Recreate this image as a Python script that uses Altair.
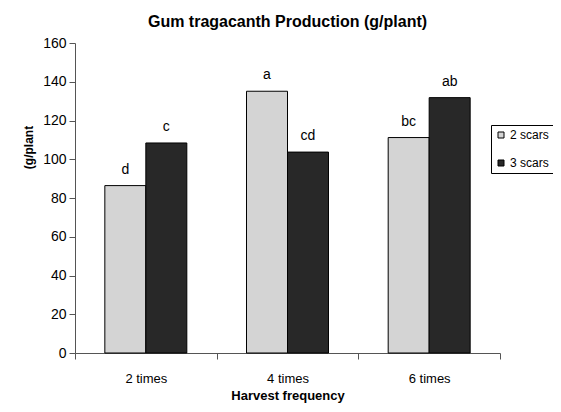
import altair as alt
import pandas as pd

freq = ["2 times", "4 times", "6 times"]
series_names = ["2 scars", "3 scars"]
scars2 = [86.4, 135.1, 111.2]
scars3 = [108.4, 103.7, 131.8]
letters2 = ["d", "a", "bc"]
letters3 = ["c", "cd", "ab"]

rows = []
for i, f in enumerate(freq):
    rows.append({"freq": f, "series": series_names[0], "value": scars2[i], "letter": letters2[i]})
    rows.append({"freq": f, "series": series_names[1], "value": scars3[i], "letter": letters3[i]})
df = pd.DataFrame(rows)

FONT = "Liberation Sans, Arial, sans-serif"

base = alt.Chart(df).encode(
    x=alt.X(
        "freq:N",
        sort=freq,
        scale=alt.Scale(paddingInner=0, paddingOuter=0),
        axis=alt.Axis(
            title="Harvest frequency",
            labelAngle=0,
            tickBand="extent",
            tickSize=6,
            labelPadding=13,
            labelFontSize=13,
            titleFontSize=13,
            titleFontWeight="bold",
            titleY=42,
            titleBaseline="middle",
        ),
    ),
    xOffset=alt.XOffset(
        "series:N",
        sort=series_names,
        scale=alt.Scale(paddingOuter=0.728, paddingInner=0),
    ),
    y=alt.Y(
        "value:Q",
        scale=alt.Scale(domain=[0, 160], nice=False),
        axis=alt.Axis(
            title="(g/plant",
            values=list(range(0, 161, 20)),
            tickSize=6,
            labelPadding=3,
            labelFontSize=14,
            grid=False,
            titleFontSize=12,
            titleFontWeight="bold",
            titleX=-47,
            titleY=104,
            titleAngle=-90,
            titleBaseline="middle",
            titleAlign="center",
        ),
    ),
)

bars = base.mark_bar(stroke="black", strokeWidth=1).encode(
    color=alt.Color(
        "series:N",
        sort=series_names,
        scale=alt.Scale(domain=series_names, range=["#d4d4d4", "#282828"]),
        legend=alt.Legend(
            title=None,
            orient="none",
            legendX=416,
            legendY=82,
            strokeColor="black",
            fillColor="white",
            padding=4,
            symbolType="square",
            symbolSize=36,
            symbolStrokeColor="black",
            symbolStrokeWidth=1,
            labelFontSize=12,
            labelOffset=3,
            rowPadding=16,
        ),
    )
)

text = base.mark_text(dy=-12, baseline="alphabetic", fontSize=14, font=FONT, color="black").encode(
    text="letter:N"
)

chart = (
    alt.layer(bars, text)
    .properties(
        width=425,
        height=310,
        title=alt.TitleParams(
            "Gum tragacanth Production (g/plant)",
            fontSize=16,
            fontWeight="bold",
            font=FONT,
            anchor="middle",
            offset=6,
            color="black",
        ),
        autosize=alt.AutoSizeParams(type="none"),
        padding={"left": 67, "top": 35, "right": 53, "bottom": 51},
    )
    .configure_view(stroke=None)
    .configure_axis(
        labelFont=FONT,
        titleFont=FONT,
        labelColor="black",
        titleColor="black",
        domainColor="#555555",
        tickColor="#555555",
        domainWidth=1,
    )
    .configure_legend(labelFont=FONT, labelColor="black")
)

chart.save("out.html", embed_options={"renderer": "svg", "actions": False})
